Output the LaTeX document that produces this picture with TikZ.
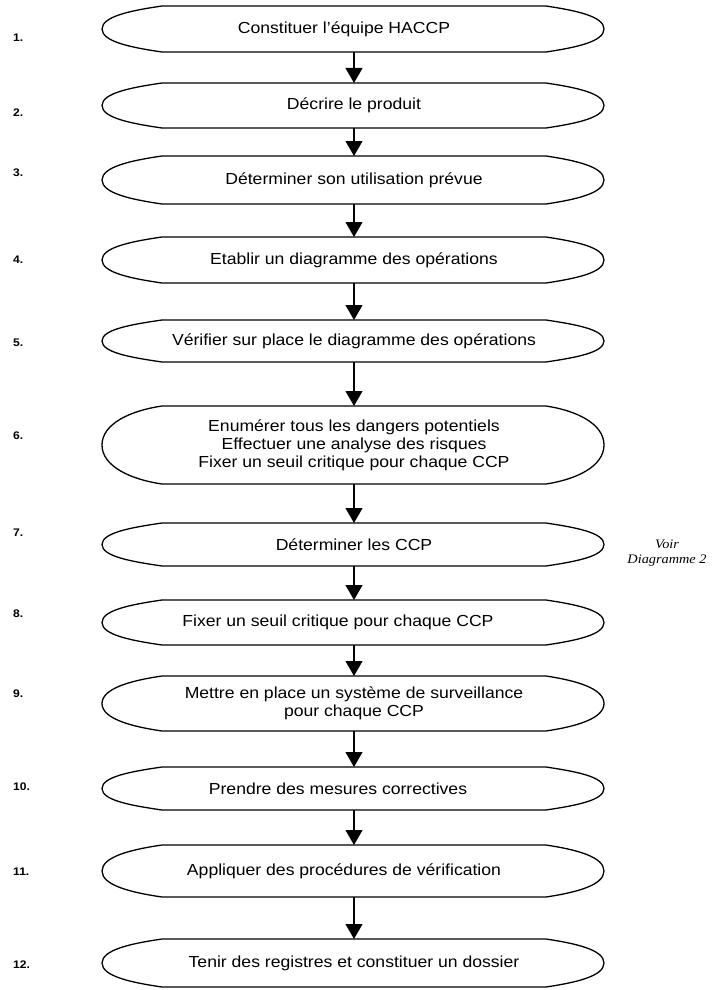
\documentclass[tikz,border=0pt]{standalone}
\usepackage{fontspec}
\setmainfont{Liberation Sans}[FakeStretch=1.1]
\newfontfamily\voirfont{Liberation Serif}[FakeStretch=1.1]
\usetikzlibrary{arrows.meta}
\tikzset{
  boxnode/.style={inner sep=0pt, outer sep=0pt, minimum width=384pt, draw=none},
  boxline/.style={line width=1.3pt},
  boxtext/.style={align=center, font=\fontsize{16}{18}\selectfont, inner sep=0pt},
  numlabel/.style={anchor=west, inner sep=0pt, font=\bfseries\fontsize{11}{13}\selectfont},
  arr/.style={line width=1.1pt, -{Triangle[width=17pt,length=15pt]}},
  voirtext/.style={align=center, inner sep=0pt, font=\voirfont\itshape\fontsize{13}{15}\selectfont},
}
\newcommand\mkbox[5]{%
  \node[boxnode, minimum height={(#3-#2)*1pt}] (#1) at (354,{(#2+#3)/2}) {};
  \draw[boxline] (#1.north west) -- (#1.north east)
    .. controls +(30,4.5) and +(0,{-0.55*(#3-#2)/2}) .. ([xshift=58pt]#1.east)
    .. controls +(0,{0.55*(#3-#2)/2}) and +(30,-4.5) .. (#1.south east)
    -- (#1.south west)
    .. controls +(-31,-4.5) and +(0,{0.55*(#3-#2)/2}) .. ([xshift=-60pt]#1.west)
    .. controls +(0,{-0.55*(#3-#2)/2}) and +(-31,4.5) .. (#1.north west) -- cycle;
  \node[boxtext, xshift=#5pt] (t#1) at (#1.center) {#4};
}
\begin{document}
\begin{tikzpicture}[x=1pt,y=-1pt]
\useasboundingbox (0,0) rectangle (714,990);
\mkbox{b1}{6}{52}{Constituer l’équipe HACCP}{-10}
\mkbox{b2}{83}{128}{Décrire le produit}{0}
\mkbox{b3}{156}{204}{Déterminer son utilisation prévue}{0}
\mkbox{b4}{237}{283}{Etablir un diagramme des opérations}{0}
\mkbox{b5}{320}{362}{Vérifier sur place le diagramme des opérations}{0}
\mkbox{b6}{406}{484}{Enumérer tous les dangers potentiels\\Effectuer une analyse des risques\\Fixer un seuil critique pour chaque CCP}{0}
\mkbox{b7}{523}{566}{Déterminer les CCP}{0}
\mkbox{b8}{600}{645}{Fixer un seuil critique pour chaque CCP}{-16}
\mkbox{b9}{676}{731}{Mettre en place un système de surveillance\\pour chaque CCP}{0}
\mkbox{b10}{767}{810}{Prendre des mesures correctives}{-16}
\mkbox{b11}{845}{897}{Appliquer des procédures de vérification}{-10}
\mkbox{b12}{939}{987}{Tenir des registres et constituer un dossier}{0}

\draw[arr] (b1.south) -- (b2.north);
\draw[arr] (b2.south) -- (b3.north);
\draw[arr] (b3.south) -- (b4.north);
\draw[arr] (b4.south) -- (b5.north);
\draw[arr] (b5.south) -- (b6.north);
\draw[arr] (b6.south) -- (b7.north);
\draw[arr] (b7.south) -- (b8.north);
\draw[arr] (b8.south) -- (b9.north);
\draw[arr] (b9.south) -- (b10.north);
\draw[arr] (b10.south) -- (b11.north);
\draw[arr] (b11.south) -- (b12.north);

\node[numlabel] (n1) at (13,38) {1.};
\node[numlabel] (n2) at (13,113) {2.};
\node[numlabel] (n3) at (13,173) {3.};
\node[numlabel] (n4) at (13,260) {4.};
\node[numlabel] (n5) at (13,343) {5.};
\node[numlabel] (n6) at (13,436) {6.};
\node[numlabel] (n7) at (13,533) {7.};
\node[numlabel] (n8) at (13,614) {8.};
\node[numlabel] (n9) at (13,694) {9.};
\node[numlabel] (n10) at (13,787) {10.};
\node[numlabel] (n11) at (13,872) {11.};
\node[numlabel] (n12) at (13,965) {12.};

\node[voirtext] (voir) at (667,553) {Voir\\Diagramme 2};
\end{tikzpicture}
\end{document}
